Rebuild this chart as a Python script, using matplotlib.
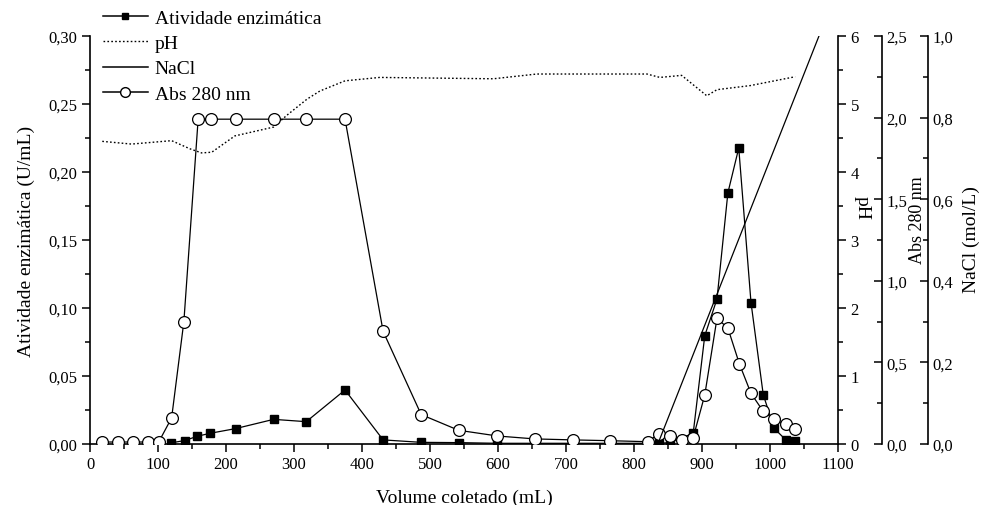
import matplotlib
matplotlib.use("Agg")
import matplotlib.pyplot as plt
from matplotlib.ticker import MultipleLocator, FuncFormatter
from matplotlib.lines import Line2D

plt.rcParams['font.family'] = ['Liberation Serif', 'DejaVu Serif']

# Atividade enzimática (U/mL)
vol_ativ = [119, 139, 158, 177, 214, 270, 318, 375, 431, 487, 542, 599,
            836, 853, 887, 904, 922, 938, 954, 972, 990, 1006, 1023, 1037]
ativ = [0.0008, 0.0025, 0.0057, 0.0079, 0.0113, 0.0181, 0.0164, 0.0397,
        0.0030, 0.0012, 0.0010, 0.0005, 0.0005, 0.0010, 0.0079, 0.0796,
        0.1066, 0.1846, 0.2176, 0.1040, 0.0363, 0.0115, 0.0031, 0.0025]

# Abs 280 nm
vol_abs = [18, 41, 63, 85, 101, 120, 138, 159, 178, 215, 270, 318, 375,
           431, 487, 542, 599, 654, 710, 765, 820, 836, 853, 870, 887,
           904, 922, 938, 955, 972, 990, 1006, 1023, 1037]
abs280 = [0.012, 0.012, 0.012, 0.012, 0.012, 0.16, 0.75, 1.99, 1.99, 1.99,
          1.99, 1.99, 1.99, 0.69, 0.18, 0.084, 0.049, 0.031, 0.025, 0.020,
          0.014, 0.061, 0.047, 0.025, 0.039, 0.30, 0.77, 0.71, 0.49, 0.31,
          0.20, 0.15, 0.12, 0.092]

# pH
vol_ph = [18, 61, 120, 147, 164, 179, 213, 270, 289, 319, 338, 375, 426,
          593, 657, 819, 838, 870, 907, 922, 971, 1037]
ph = [4.45, 4.41, 4.46, 4.34, 4.28, 4.29, 4.53, 4.66, 4.83, 5.07, 5.19,
      5.34, 5.39, 5.37, 5.44, 5.44, 5.39, 5.42, 5.12, 5.21, 5.27, 5.40]

# NaCl (mol/L)
vol_nacl = [835, 1072]
nacl = [0.0, 1.0]

fig = plt.figure(figsize=(9.85, 5.06), dpi=100)
ax = fig.add_axes([0.0914, 0.1206, 0.7594, 0.8064])
ax_ph = ax.twinx()
ax_abs = ax.twinx()
ax_nacl = ax.twinx()

lw = 0.9
ax.plot(vol_ativ, ativ, color='black', lw=lw, marker='s', ms=6,
        mfc='black', mec='black', zorder=3)
ax_ph.plot(vol_ph, ph, color='black', lw=1.0, ls=(0, (1.2, 1.6)))
ax_nacl.plot(vol_nacl, nacl, color='black', lw=lw)
ax_abs.plot(vol_abs, abs280, color='black', lw=lw, marker='o', ms=8.5,
            mfc='white', mec='black', mew=0.9, zorder=4)

ax.set_xlim(0, 1100)
ax.set_ylim(0, 0.30)
ax_ph.set_ylim(0, 6)
ax_abs.set_ylim(0, 2.5)
ax_nacl.set_ylim(0, 1.0)

def comma(fmt):
    return FuncFormatter(lambda v, p: (fmt % v).replace('.', ','))

ax.xaxis.set_major_locator(MultipleLocator(100))
ax.xaxis.set_minor_locator(MultipleLocator(50))
ax.yaxis.set_major_locator(MultipleLocator(0.05))
ax.yaxis.set_minor_locator(MultipleLocator(0.025))
ax.yaxis.set_major_formatter(comma('%.2f'))
ax_ph.yaxis.set_major_locator(MultipleLocator(1))
ax_ph.yaxis.set_minor_locator(MultipleLocator(0.5))
ax_abs.yaxis.set_major_locator(MultipleLocator(0.5))
ax_abs.yaxis.set_minor_locator(MultipleLocator(0.25))
ax_abs.yaxis.set_major_formatter(comma('%.1f'))
ax_nacl.yaxis.set_major_locator(MultipleLocator(0.2))
ax_nacl.yaxis.set_minor_locator(MultipleLocator(0.1))
ax_nacl.yaxis.set_major_formatter(comma('%.1f'))

for a in (ax, ax_ph, ax_abs, ax_nacl):
    for s in a.spines.values():
        s.set_visible(False)
        s.set_linewidth(1.2)
    a.patch.set_visible(False)

ax.spines['left'].set_visible(True)
ax.spines['bottom'].set_visible(True)
ax_ph.spines['right'].set_visible(True)
ax_abs.spines['right'].set_visible(True)
ax_abs.spines['right'].set_position(('axes', 1.0588))
ax_nacl.spines['right'].set_visible(True)
ax_nacl.spines['right'].set_position(('axes', 1.1203))

tick_fs = 12
ax.tick_params(which='major', direction='out', length=6, width=1.1,
               labelsize=tick_fs, pad=3)
ax.tick_params(which='minor', direction='out', length=3.5, width=1.1)
ax_ph.tick_params(which='major', direction='out', length=6, width=1.1,
                  labelsize=tick_fs, pad=3)
ax_ph.tick_params(which='minor', direction='out', length=3.5, width=1.1)
for a in (ax_abs, ax_nacl):
    a.tick_params(which='major', direction='in', length=6, width=1.1,
                  labelsize=tick_fs, pad=3)
    a.tick_params(which='minor', direction='in', length=3.5, width=1.1)

label_fs = 14
ax.set_xlabel('Volume coletado (mL)', fontsize=label_fs, labelpad=12)
ax.set_ylabel('Atividade enzimática (U/mL)', fontsize=label_fs, labelpad=10)

fig.text(862 / 985, 1 - 208 / 506, 'pH', rotation=270, fontsize=label_fs,
         ha='center', va='center')
fig.text(917 / 985, 1 - 220 / 506, 'Abs 280 nm', rotation=90,
         fontsize=13, ha='center', va='center')
fig.text(971 / 985, 1 - 240 / 506, 'NaCl (mol/L)', rotation=90,
         fontsize=label_fs, ha='center', va='center')

handles = [
    Line2D([], [], color='black', lw=1.1, marker='s', ms=5, mfc='black'),
    Line2D([], [], color='black', lw=1.0, ls=(0, (1.2, 1.6))),
    Line2D([], [], color='black', lw=1.1),
    Line2D([], [], color='black', lw=1.1, marker='o', ms=7, mfc='white'),
]
labels = ['Atividade enzimática', 'pH', 'NaCl', 'Abs 280 nm']
fig.legend(handles, labels, loc='upper left',
           bbox_to_anchor=(103 / 985, 1 - 10 / 506), frameon=False,
           fontsize=label_fs, handlelength=2.3, handletextpad=0.36,
           labelspacing=0.4, borderaxespad=0, borderpad=0, numpoints=1)

fig.savefig('out.png', dpi=100)
